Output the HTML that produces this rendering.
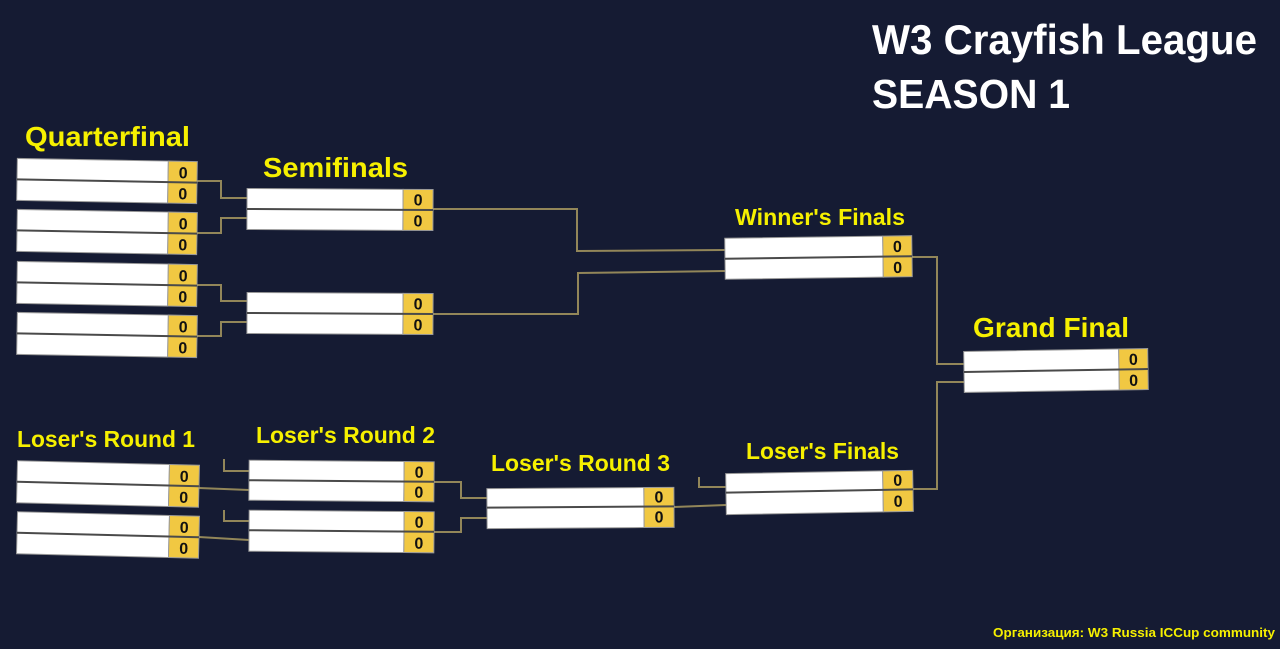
<!DOCTYPE html>
<html>
<head>
<meta charset="utf-8">
<style>
  html, body { margin:0; padding:0; background:#151b33; }
  body { width:1280px; height:649px; overflow:hidden; }
  svg { display:block; }
  .lbl { font-family:"Liberation Sans", Arial, sans-serif; font-weight:bold; fill:#f6f000; }
  .ttl { font-family:"Liberation Sans", Arial, sans-serif; font-weight:bold; fill:#ffffff; }
  .sc { font-family:"Liberation Sans", Arial, sans-serif; font-weight:bold; fill:#111; font-size:16px; text-anchor:middle; }
  .con { fill:none; stroke:#928659; stroke-width:2; }
</style>
</head>
<body>
<svg width="1280" height="649" viewBox="0 0 1280 649" xmlns="http://www.w3.org/2000/svg">
  <rect x="0" y="0" width="1280" height="649" fill="#151b33"/>

  <!-- Title -->
  <text class="ttl" x="872" y="54" font-size="42" textLength="385" lengthAdjust="spacingAndGlyphs">W3 Crayfish League</text>
  <text class="ttl" x="872" y="108" font-size="41" textLength="198" lengthAdjust="spacingAndGlyphs">SEASON 1</text>

  <!-- Round labels -->
  <text class="lbl" x="25" y="146" font-size="28" textLength="165" lengthAdjust="spacingAndGlyphs">Quarterfinal</text>
  <text class="lbl" x="263" y="177" font-size="28" textLength="145" lengthAdjust="spacingAndGlyphs">Semifinals</text>
  <text class="lbl" x="735" y="225" font-size="23" textLength="170" lengthAdjust="spacingAndGlyphs">Winner's Finals</text>
  <text class="lbl" x="973" y="337" font-size="28" textLength="156" lengthAdjust="spacingAndGlyphs">Grand Final</text>
  <text class="lbl" x="17" y="447" font-size="23" textLength="178" lengthAdjust="spacingAndGlyphs">Loser's Round 1</text>
  <text class="lbl" x="256" y="443" font-size="23" textLength="179" lengthAdjust="spacingAndGlyphs">Loser's Round 2</text>
  <text class="lbl" x="491" y="471" font-size="23" textLength="179" lengthAdjust="spacingAndGlyphs">Loser's Round 3</text>
  <text class="lbl" x="746" y="459" font-size="23" textLength="153" lengthAdjust="spacingAndGlyphs">Loser's Finals</text>

  <text class="lbl" x="993" y="637" font-size="13" textLength="282" lengthAdjust="spacingAndGlyphs">Организация: W3 Russia ICCup community</text>

  <!-- Connectors -->
  <polyline class="con" points="197,181 221,181 221,198 247,198"/>
  <polyline class="con" points="197,233 221,233 221,218 247,218"/>
  <polyline class="con" points="197,285 221,285 221,301 247,301"/>
  <polyline class="con" points="197,336 221,336 221,322 247,322"/>
  <polyline class="con" points="433,209 577,209 577,251 725,250"/>
  <polyline class="con" points="433,314 578,314 578,273 725,271"/>
  <polyline class="con" points="912,257 937,257 937,364 964,364"/>
  <polyline class="con" points="913,489 937,489 937,382 964,382"/>
  <polyline class="con" points="199,488 249,490"/>
  <polyline class="con" points="224,459 224,471 249,471"/>
  <polyline class="con" points="224,510 224,521 249,521"/>
  <polyline class="con" points="199,537 249,540"/>
  <polyline class="con" points="434,482 461,482 461,498 487,498"/>
  <polyline class="con" points="434,532 461,532 461,518 487,518"/>
  <polyline class="con" points="674,507 726,505"/>
  <polyline class="con" points="699,477 699,487 726,487"/>

  <!-- Quarterfinals -->
  <g transform="translate(17,160) rotate(1,90,21)">
    <rect x="0" y="0" width="151" height="42" fill="#fff" stroke="#999" stroke-width="1"/>
    <rect x="151" y="0" width="29" height="42" fill="#f1c842" stroke="#999" stroke-width="1"/>
    <line x1="0" y1="21" x2="180" y2="21" stroke="#4a4a4a" stroke-width="2"/>
    <text class="sc" x="166" y="17">0</text><text class="sc" x="166" y="38">0</text>
  </g>
  <g transform="translate(17,211) rotate(1,90,21)">
    <rect x="0" y="0" width="151" height="42" fill="#fff" stroke="#999" stroke-width="1"/>
    <rect x="151" y="0" width="29" height="42" fill="#f1c842" stroke="#999" stroke-width="1"/>
    <line x1="0" y1="21" x2="180" y2="21" stroke="#4a4a4a" stroke-width="2"/>
    <text class="sc" x="166" y="17">0</text><text class="sc" x="166" y="38">0</text>
  </g>
  <g transform="translate(17,263) rotate(1,90,21)">
    <rect x="0" y="0" width="151" height="42" fill="#fff" stroke="#999" stroke-width="1"/>
    <rect x="151" y="0" width="29" height="42" fill="#f1c842" stroke="#999" stroke-width="1"/>
    <line x1="0" y1="21" x2="180" y2="21" stroke="#4a4a4a" stroke-width="2"/>
    <text class="sc" x="166" y="17">0</text><text class="sc" x="166" y="38">0</text>
  </g>
  <g transform="translate(17,314) rotate(1,90,21)">
    <rect x="0" y="0" width="151" height="42" fill="#fff" stroke="#999" stroke-width="1"/>
    <rect x="151" y="0" width="29" height="42" fill="#f1c842" stroke="#999" stroke-width="1"/>
    <line x1="0" y1="21" x2="180" y2="21" stroke="#4a4a4a" stroke-width="2"/>
    <text class="sc" x="166" y="17">0</text><text class="sc" x="166" y="38">0</text>
  </g>

  <!-- Semifinals -->
  <g transform="translate(247,189) rotate(0.3,93,21)">
    <rect x="0" y="0" width="156" height="41" fill="#fff" stroke="#999" stroke-width="1"/>
    <rect x="156" y="0" width="30" height="41" fill="#f1c842" stroke="#999" stroke-width="1"/>
    <line x1="0" y1="20.5" x2="186" y2="20.5" stroke="#4a4a4a" stroke-width="2"/>
    <text class="sc" x="171" y="16">0</text><text class="sc" x="171" y="37">0</text>
  </g>
  <g transform="translate(247,293) rotate(0.3,93,21)">
    <rect x="0" y="0" width="156" height="41" fill="#fff" stroke="#999" stroke-width="1"/>
    <rect x="156" y="0" width="30" height="41" fill="#f1c842" stroke="#999" stroke-width="1"/>
    <line x1="0" y1="20.5" x2="186" y2="20.5" stroke="#4a4a4a" stroke-width="2"/>
    <text class="sc" x="171" y="16">0</text><text class="sc" x="171" y="37">0</text>
  </g>

  <!-- Winner's Finals -->
  <g transform="translate(725,237) rotate(-0.8,93,21)">
    <rect x="0" y="0" width="158" height="41" fill="#fff" stroke="#999" stroke-width="1"/>
    <rect x="158" y="0" width="29" height="41" fill="#f1c842" stroke="#999" stroke-width="1"/>
    <line x1="0" y1="20.5" x2="187" y2="20.5" stroke="#4a4a4a" stroke-width="2"/>
    <text class="sc" x="172.5" y="16">0</text><text class="sc" x="172.5" y="37">0</text>
  </g>

  <!-- Grand Final -->
  <g transform="translate(964,350) rotate(-0.9,92,21)">
    <rect x="0" y="0" width="155" height="41" fill="#fff" stroke="#999" stroke-width="1"/>
    <rect x="155" y="0" width="29" height="41" fill="#f1c842" stroke="#999" stroke-width="1"/>
    <line x1="0" y1="20.5" x2="184" y2="20.5" stroke="#4a4a4a" stroke-width="2"/>
    <text class="sc" x="169.5" y="16">0</text><text class="sc" x="169.5" y="37">0</text>
  </g>

  <!-- Loser's Round 1 -->
  <g transform="translate(17,463) rotate(1.4,91,21)">
    <rect x="0" y="0" width="152" height="42" fill="#fff" stroke="#999" stroke-width="1"/>
    <rect x="152" y="0" width="30" height="42" fill="#f1c842" stroke="#999" stroke-width="1"/>
    <line x1="0" y1="21" x2="182" y2="21" stroke="#4a4a4a" stroke-width="2"/>
    <text class="sc" x="167" y="17">0</text><text class="sc" x="167" y="38">0</text>
  </g>
  <g transform="translate(17,514) rotate(1.4,91,21)">
    <rect x="0" y="0" width="152" height="42" fill="#fff" stroke="#999" stroke-width="1"/>
    <rect x="152" y="0" width="30" height="42" fill="#f1c842" stroke="#999" stroke-width="1"/>
    <line x1="0" y1="21" x2="182" y2="21" stroke="#4a4a4a" stroke-width="2"/>
    <text class="sc" x="167" y="17">0</text><text class="sc" x="167" y="38">0</text>
  </g>

  <!-- Loser's Round 2 -->
  <g transform="translate(249,461) rotate(0.5,92,20)">
    <rect x="0" y="0" width="155" height="40" fill="#fff" stroke="#999" stroke-width="1"/>
    <rect x="155" y="0" width="30" height="40" fill="#f1c842" stroke="#999" stroke-width="1"/>
    <line x1="0" y1="20" x2="185" y2="20" stroke="#4a4a4a" stroke-width="2"/>
    <text class="sc" x="170" y="16">0</text><text class="sc" x="170" y="36">0</text>
  </g>
  <g transform="translate(249,511) rotate(0.5,92,20)">
    <rect x="0" y="0" width="155" height="41" fill="#fff" stroke="#999" stroke-width="1"/>
    <rect x="155" y="0" width="30" height="41" fill="#f1c842" stroke="#999" stroke-width="1"/>
    <line x1="0" y1="20" x2="185" y2="20" stroke="#4a4a4a" stroke-width="2"/>
    <text class="sc" x="170" y="16">0</text><text class="sc" x="170" y="37">0</text>
  </g>

  <!-- Loser's Round 3 -->
  <g transform="translate(487,488) rotate(-0.4,93,20)">
    <rect x="0" y="0" width="157" height="40" fill="#fff" stroke="#999" stroke-width="1"/>
    <rect x="157" y="0" width="30" height="40" fill="#f1c842" stroke="#999" stroke-width="1"/>
    <line x1="0" y1="19" x2="187" y2="19" stroke="#4a4a4a" stroke-width="2"/>
    <text class="sc" x="172" y="15">0</text><text class="sc" x="172" y="35">0</text>
  </g>

  <!-- Loser's Finals -->
  <g transform="translate(726,472) rotate(-1,93,21)">
    <rect x="0" y="0" width="157" height="41" fill="#fff" stroke="#999" stroke-width="1"/>
    <rect x="157" y="0" width="30" height="41" fill="#f1c842" stroke="#999" stroke-width="1"/>
    <line x1="0" y1="19" x2="187" y2="19" stroke="#4a4a4a" stroke-width="2"/>
    <text class="sc" x="172" y="15">0</text><text class="sc" x="172" y="36">0</text>
  </g>
</svg>
</body>
</html>
